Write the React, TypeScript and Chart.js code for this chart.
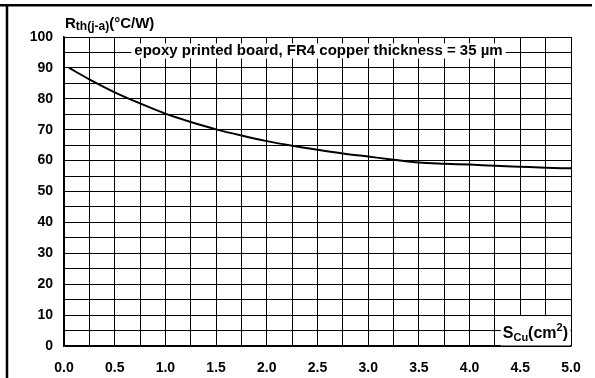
import { useEffect, useRef } from 'react';
import { Chart, registerables } from 'chart.js';

Chart.register(...registerables);

const FONT = '"Liberation Sans", Arial, Helvetica, sans-serif';

// Copper area S_Cu (cm²)
const copperArea = [0.05, 0.25, 0.5, 0.75, 1.0, 1.25, 1.5, 1.75, 2.0, 2.25, 2.5, 2.75, 3.0, 3.25, 3.5, 3.75, 4.0, 4.25, 4.5, 4.75, 5.0];
// Thermal resistance Rth(j-a) (°C/W)
const rthValues = [90, 86.3, 82.1, 78.5, 75.2, 72.5, 70.1, 68.1, 66.3, 64.8, 63.5, 62.3, 61.3, 60.3, 59.4, 59.0, 58.7, 58.3, 58.0, 57.7, 57.5];

const xTickLabels = ['0.0', '0.5', '1.0', '1.5', '2.0', '2.5', '3.0', '3.5', '4.0', '4.5', '5.0'];
const yTickLabels = ['0', '10', '20', '30', '40', '50', '60', '70', '80', '90', '100'];

const annotationText = 'epoxy printed board, FR4 copper thickness = 35 µm';

const decorations = {
  id: 'decorations',
  afterDraw(chart: any) {
    const ctx = chart.ctx as CanvasRenderingContext2D;
    const { left, top, right, bottom } = chart.chartArea;
    const ys = chart.scales.y;
    ctx.save();

    // outer frame lines
    ctx.strokeStyle = '#000';
    ctx.lineWidth = 2.5;
    ctx.beginPath();
    ctx.moveTo(0, 5.25);
    ctx.lineTo(592, 5.25);
    ctx.moveTo(7, 4);
    ctx.lineTo(7, 378);
    ctx.stroke();

    ctx.fillStyle = '#000';
    ctx.textAlign = 'left';
    ctx.textBaseline = 'alphabetic';

    // y-axis title: R_th(j-a)(°C/W)
    let x = left + 1;
    const tb = top - 9;
    ctx.font = `bold 15px ${FONT}`;
    ctx.fillText('R', x, tb);
    x += ctx.measureText('R').width;
    ctx.font = `bold 12px ${FONT}`;
    ctx.fillText('th(j-a)', x, tb + 2);
    x += ctx.measureText('th(j-a)').width;
    ctx.font = `bold 15px ${FONT}`;
    ctx.fillText('(°C/W)', x, tb);

    // annotation
    ctx.font = `bold 15px ${FONT}`;
    const aw = ctx.measureText(annotationText).width;
    const acx = (left + right) / 2 + 1;
    const ab = ys.getPixelForValue(95) + 2.5;
    ctx.fillStyle = '#fff';
    ctx.fillRect(acx - aw / 2 - 3, ab - 11.5, aw + 6, 15);
    ctx.fillStyle = '#000';
    ctx.fillText(annotationText, acx - aw / 2, ab);

    // x-axis title: S_Cu(cm²)
    const parts: [string, number, number][] = [
      ['S', 16, 0],
      ['Cu', 11, 3],
      ['(cm', 16, 0],
      ['2', 11, -7],
      [')', 16, 0],
    ];
    let total = 0;
    for (const [t, s] of parts) {
      ctx.font = `bold ${s}px ${FONT}`;
      total += ctx.measureText(t).width;
    }
    const sb = ys.getPixelForValue(5) + 7;
    let sx = right - 3 - total;
    ctx.fillStyle = '#fff';
    ctx.fillRect(sx - 2, ys.getPixelForValue(10) + 1, right - sx + 1.5, bottom - ys.getPixelForValue(10) - 1.5);
    ctx.fillStyle = '#000';
    for (const [t, s, dy] of parts) {
      ctx.font = `bold ${s}px ${FONT}`;
      ctx.fillText(t, sx, sb + dy);
      sx += ctx.measureText(t).width;
    }

    ctx.restore();
  },
};

export default function App() {
  const canvasRef = useRef<HTMLCanvasElement | null>(null);

  useEffect(() => {
    document.body.style.margin = '0';
    const canvas = canvasRef.current;
    if (!canvas) return;
    const chart = new Chart(canvas, {
      type: 'line',
      data: {
        datasets: [
          {
            data: copperArea.map((x, i) => ({ x, y: rthValues[i] })),
            borderColor: '#000',
            borderWidth: 2,
            pointRadius: 0,
            fill: false,
            cubicInterpolationMode: 'monotone',
          },
        ],
      },
      options: {
        responsive: false,
        animation: false,
        devicePixelRatio: 1,
        layout: { padding: { top: 37, right: 24, left: 0, bottom: 0 } },
        plugins: { legend: { display: false }, tooltip: { enabled: false }, title: { display: false } },
        scales: {
          x: {
            type: 'linear',
            min: 0,
            max: 5,
            afterFit: (scale: any) => {
              scale.height = 32;
            },
            grid: { color: '#000', lineWidth: 1, drawTicks: false },
            border: { color: '#000', width: 1.5 },
            ticks: {
              stepSize: 0.25,
              autoSkip: false,
              maxRotation: 0,
              padding: 14,
              color: '#000',
              font: { family: FONT, size: 14, weight: 'bold' },
              callback: (v: any) => {
                const idx = Math.round(Number(v) / 0.5);
                return Math.abs(Number(v) - idx * 0.5) < 1e-6 ? xTickLabels[idx] : '';
              },
            },
          },
          y: {
            min: 0,
            max: 100,
            afterFit: (scale: any) => {
              scale.width = 64;
            },
            grid: { color: '#000', lineWidth: 1, drawTicks: false },
            border: { color: '#000', width: 1.5 },
            ticks: {
              stepSize: 5,
              autoSkip: false,
              padding: 11,
              color: '#000',
              font: { family: FONT, size: 14, weight: 'bold' },
              callback: (v: any) => {
                const n = Number(v);
                return n % 10 === 0 ? yTickLabels[n / 10] : '';
              },
            },
          },
        },
      },
      plugins: [decorations],
    } as any);
    return () => chart.destroy();
  }, []);

  return (
    <div style={{ width: 595, height: 378, background: '#fff' }}>
      <canvas ref={canvasRef} width={595} height={378} style={{ display: 'block' }} />
    </div>
  );
}
